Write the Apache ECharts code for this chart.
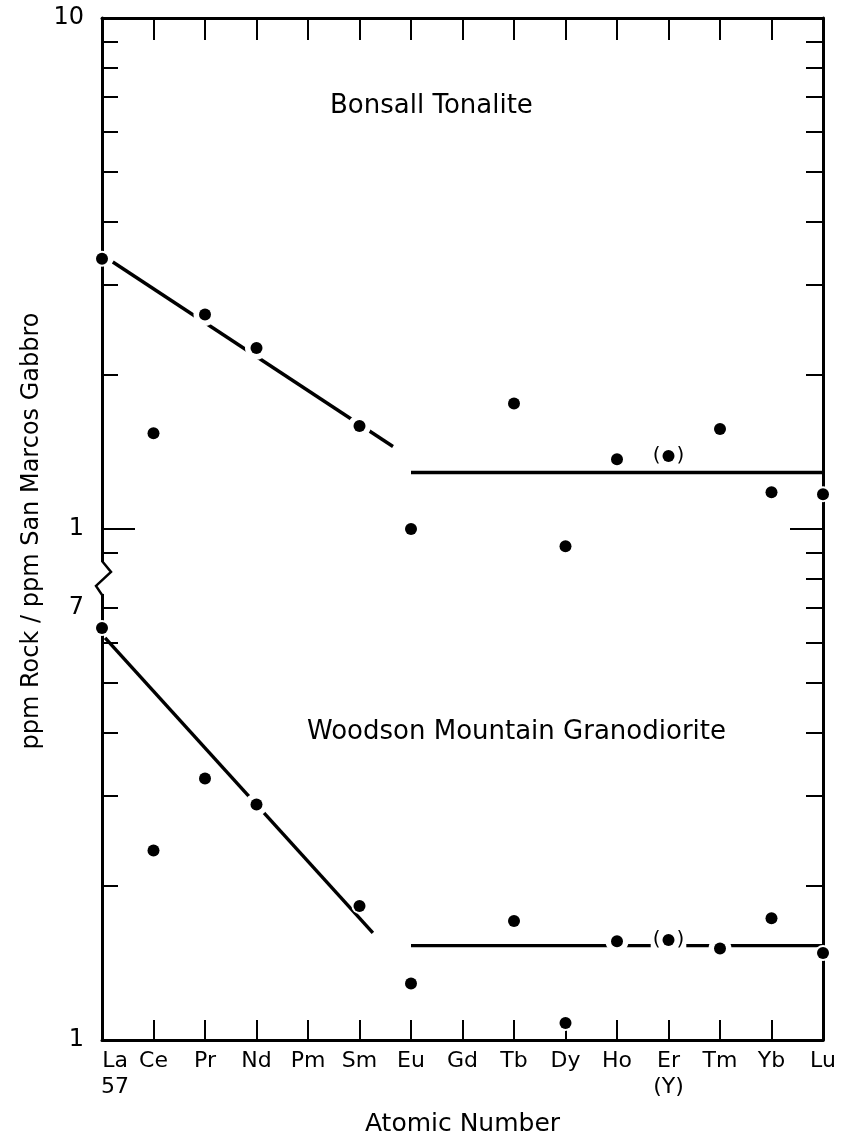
<!DOCTYPE html>
<html><head><meta charset="utf-8">
<script src="https://cdn.jsdelivr.net/npm/echarts@6/dist/echarts.min.js"></script>
<style>html,body{margin:0;padding:0;background:#fff}#c{width:846px;height:1142px}</style>
</head><body><div id="c"></div>
<script>
// ---- data ----
const elements = ['La','Ce','Pr','Nd','Pm','Sm','Eu','Gd','Tb','Dy','Ho','Er','Tm','Yb','Lu'];
const subLabels = {La:'57', Er:'(Y)'};
// ppm rock / ppm San Marcos Gabbro
const bonsall = [3.38,1.54,2.63,2.26,null,1.59,1.0,null,1.76,0.925,1.37,1.39,1.57,1.18,1.17];
const woodson = [6.40,2.35,3.25,2.89,null,1.83,1.29,null,1.71,1.08,1.56,1.57,1.51,1.73,1.48];
const woodsonShift = 0.1;            // lower panel is drawn one decade lower
const bonsallSlope = [[0.21,3.33],[5.65,1.45]];
const bonsallFlat  = [[6,1.29],[14,1.29]];
const woodsonSlope = [[0.06,6.12],[5.26,1.62]];
const woodsonFlat  = [[6,1.53],[14,1.53]];
const bracketed = ['Er'];
const onFitLine = {bonsall:['Pr','Nd','Sm'], woodson:['Nd','Ho','Tm']};
const yLabelValues = [10, 1, 0.7, 0.1];
const yLabelTexts  = ['10','1','7','1'];
const leftMinor  = [2,3,4,5,6,7,8,9,0.9,0.7,0.6,0.5,0.4,0.3,0.2];
const rightMinor = [2,3,4,5,6,7,8,9,0.9,0.8,0.7,0.6,0.5,0.4,0.3,0.2];
const majorTicks = [1];

// ---- build ----
const L = v => Math.log10(v);
const FONT = 'DejaVu Sans';
function pts(arr, k){ const o=[]; arr.forEach((v,i)=>{ if(v!=null) o.push({name:elements[i], value:[i, L(v*k)]}); }); return o; }
const bPts = pts(bonsall,1), wPts = pts(woodson,woodsonShift);
function halo(points, key){
  return points.map(p=>{
    const big = onFitLine[key].includes(p.name);
    const d = {value:p.value, symbolSize: big?23:16};
    if (bracketed.includes(p.name)) {
      d.label = {show:true, position:'inside', formatter:'{p|(}{s| }{p|)}',
        backgroundColor:'#fff', padding:[0,2],
        rich:{p:{fontSize:20, fontFamily:FONT, color:'#000'}, s:{width:16, fontSize:20}}};
    }
    return d;
  });
}
const lineStyle = {color:'#000', width:3.4};
const fitLine = (data, k) => ({type:'line', data:data.map(d=>[d[0], L(d[1]*k)]), symbol:'none', lineStyle, z:2, silent:true});

const chart = echarts.init(document.getElementById('c'), null, {renderer:'canvas'});
const yBase = {type:'value', min:-1, max:1, splitLine:{show:false}};
const option = {
  backgroundColor:'#fff',
  animation:false,
  grid:{left:102, right:23, top:18, bottom:102},
  xAxis:[
    {type:'value', min:0, max:14, interval:1, position:'bottom', splitLine:{show:false},
     axisLine:{onZero:false, lineStyle:{color:'#000', width:3}},
     axisTick:{inside:true, length:20, lineStyle:{color:'#000', width:2}},
     axisLabel:{color:'#000', fontFamily:FONT, fontSize:22, margin:8, lineHeight:26, showMinLabel:true, showMaxLabel:true,
       formatter:v=>{ const e=elements[Math.round(v)]; if(e==='La') return '{a|La}\n{a|57}'; return subLabels[e]? e+'\n'+subLabels[e] : e; },
       rich:{a:{fontFamily:FONT, fontSize:22, color:'#000', lineHeight:26, padding:[0,0,0,26]}}},
     name:'Atomic Number', nameLocation:'middle', nameGap:72,
     nameTextStyle:{color:'#000', fontFamily:FONT, fontSize:25}},
    {type:'value', min:0, max:14, interval:1, position:'top', splitLine:{show:false},
     axisLine:{onZero:false, lineStyle:{color:'#000', width:3}},
     axisTick:{inside:true, length:22, lineStyle:{color:'#000', width:2}},
     axisLabel:{show:false}}
  ],
  yAxis:[
    Object.assign({}, yBase, {position:'left',
      axisLine:{show:true, onZero:false, lineStyle:{color:'#000', width:3}},
      axisTick:{show:true, inside:true, length:16, customValues:leftMinor.map(L), lineStyle:{color:'#000', width:2}},
      axisLabel:{show:true, customValues:yLabelValues.map(L), margin:18, color:'#000', fontFamily:FONT, fontSize:24,
        formatter:v=>{ let bi=0; yLabelValues.forEach((t,i)=>{ if(Math.abs(L(t)-v)<Math.abs(L(yLabelValues[bi])-v)) bi=i; }); return yLabelTexts[bi]; }}}),
    Object.assign({}, yBase, {position:'right',
      axisLine:{show:true, onZero:false, lineStyle:{color:'#000', width:3}},
      axisTick:{show:true, inside:true, length:17, customValues:rightMinor.map(L), lineStyle:{color:'#000', width:2}},
      axisLabel:{show:false}}),
    Object.assign({}, yBase, {position:'left', axisLine:{show:false, onZero:false},
      axisTick:{show:true, inside:true, length:33, customValues:majorTicks.map(L), lineStyle:{color:'#000', width:2}},
      axisLabel:{show:false}}),
    Object.assign({}, yBase, {position:'right', axisLine:{show:false, onZero:false},
      axisTick:{show:true, inside:true, length:33, customValues:majorTicks.map(L), lineStyle:{color:'#000', width:2}},
      axisLabel:{show:false}})
  ],
  series:[
    fitLine(bonsallSlope,1), fitLine(bonsallFlat,1),
    fitLine(woodsonSlope,woodsonShift), fitLine(woodsonFlat,woodsonShift),
    {type:'scatter', data:halo(bPts,'bonsall'), symbol:'circle', itemStyle:{color:'#fff', opacity:1}, z:3, silent:true},
    {type:'scatter', data:halo(wPts,'woodson'), symbol:'circle', itemStyle:{color:'#fff', opacity:1}, z:3, silent:true},
    {type:'scatter', name:'Bonsall Tonalite', data:bPts, symbol:'circle', symbolSize:12, itemStyle:{color:'#000', opacity:1}, z:4},
    {type:'scatter', name:'Woodson Mountain Granodiorite', data:wPts, symbol:'circle', symbolSize:12, itemStyle:{color:'#000', opacity:1}, z:4}
  ],
  graphic:[
    {id:'t1', type:'text', left:330, top:93, z:50, style:{text:'Bonsall Tonalite', fill:'#000', font:'26px "DejaVu Sans"'}},
    {id:'t2', type:'text', left:307, top:719, z:50, style:{text:'Woodson Mountain Granodiorite', fill:'#000', font:'26px "DejaVu Sans"'}},
    {id:'t3', type:'text', x:32, y:531, rotation:Math.PI/2, z:50, style:{text:'ppm Rock / ppm San Marcos Gabbro', fill:'#000', font:'24px "DejaVu Sans"', align:'center', verticalAlign:'middle'}}
  ]
};
chart.setOption(option);
// axis break zig-zag on the left axis
const ax = chart.convertToPixel({xAxisIndex:0}, 0);
const yy = v => chart.convertToPixel({yAxisIndex:0}, L(v));
const y1 = yy(0.866), y2 = yy(0.824), y3 = yy(0.774), y4 = yy(0.743);
chart.setOption({graphic:[
  {id:'gapRect', type:'rect', z:100, shape:{x:ax-4, y:y1+1, width:8, height:y4-y1-2}, style:{fill:'#fff'}},
  {id:'zigzag', type:'polyline', z:101, shape:{points:[[ax,y1],[ax+9,y2],[ax-6,y3],[ax,y4]]}, style:{stroke:'#000', lineWidth:2.5, fill:null}}
]});
</script></body></html>
